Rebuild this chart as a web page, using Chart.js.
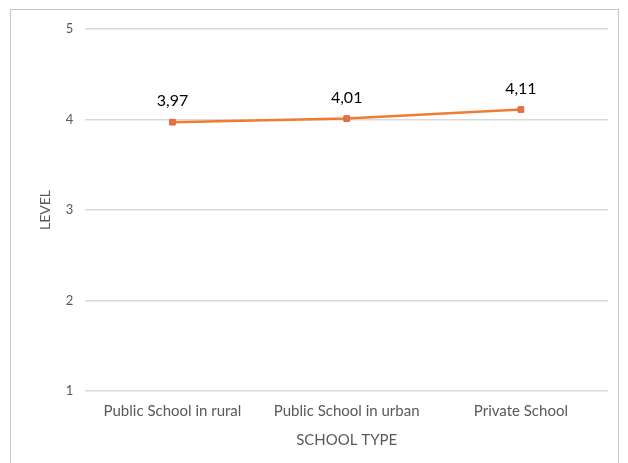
<!DOCTYPE html>
<html lang="en">
<head>
  <meta charset="UTF-8" />
  <title>School type level</title>
  <script src="https://cdn.jsdelivr.net/npm/chart.js"></script>
  <style>
    body {
      margin: 0;
      padding: 0;
      background: #ffffff;
      font-family: 'Lato', sans-serif;
    }
    .frame {
      position: absolute;
      left: 10px;
      top: 9px;
      width: 607px;
      height: 470px;
      border: 1px solid #c4c4c4;
    }
    .wrap {
      position: absolute;
      left: 0;
      top: 0;
      width: 628px;
      height: 463px;
    }
  </style>
</head>
<body>
  <div class="frame"></div>
  <div class="wrap"><canvas id="lineChart"></canvas></div>

  <script>
    const categories = ['Public School in rural', 'Public School in urban', 'Private School'];
    const levels = [3.97, 4.01, 4.11];
    const levelLabels = ['3,97', '4,01', '4,11'];

    // little plugin for the value labels above each point
    const valueLabels = {
      id: 'valueLabels',
      afterDatasetsDraw(chart) {
        const ctx = chart.ctx;
        const meta = chart.getDatasetMeta(0);
        ctx.save();
        ctx.font = '16px Lato, sans-serif';
        ctx.fillStyle = '#000000';
        ctx.textAlign = 'center';
        ctx.textBaseline = 'bottom';
        meta.data.forEach((pt, i) => {
          ctx.fillText(levelLabels[i], pt.x, pt.y - 13);
        });
        ctx.restore();
      }
    };

    new Chart(document.getElementById('lineChart').getContext('2d'), {
      type: 'line',
      data: {
        labels: categories,
        datasets: [{
          label: 'Level',
          data: levels,
          borderColor: '#ED7D31',
          backgroundColor: '#E8714A',
          borderWidth: 2.5,
          pointStyle: 'rect',
          pointRadius: 4,
          pointBorderWidth: 1,
          pointBorderColor: '#E0663E',
          tension: 0
        }]
      },
      options: {
        responsive: true,
        maintainAspectRatio: false,
        animation: false,
        layout: { padding: { left: 37, right: 20, top: 29, bottom: 14 } },
        plugins: {
          legend: { display: false },
          tooltip: { enabled: false }
        },
        scales: {
          x: {
            offset: true,
            grid: { display: false, drawTicks: false },
            border: { display: false },
            ticks: { color: '#595959', font: { family: 'Lato', size: 15 }, padding: 11 },
            title: { display: true, text: 'SCHOOL TYPE', color: '#595959', font: { family: 'Lato', size: 15 }, padding: { top: 0, bottom: 0 } }
          },
          y: {
            min: 1,
            max: 5,
            grid: { color: '#d9d9d9', lineWidth: 1.5, drawTicks: false },
            border: { display: false },
            ticks: { stepSize: 1, color: '#595959', font: { family: 'Lato', size: 13 }, padding: 12 },
            title: { display: true, text: 'LEVEL', color: '#595959', font: { family: 'Lato', size: 14 }, padding: { top: 0, bottom: 0 } }
          }
        }
      },
      plugins: [valueLabels]
    });
  </script>
</body>
</html>
